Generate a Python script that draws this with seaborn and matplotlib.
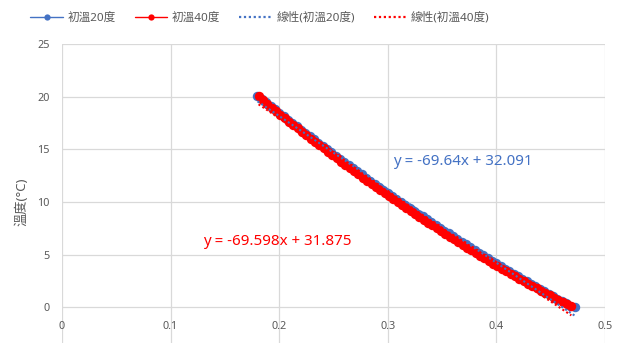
import matplotlib
matplotlib.use("Agg")
import matplotlib.pyplot as plt
from matplotlib.lines import Line2D
import numpy as np
import pandas as pd
import seaborn as sns

# ---- data -------------------------------------------------------------
x_20 = [0.180, 0.184, 0.188, 0.192, 0.196, 0.200, 0.204, 0.208, 0.212, 0.216,
        0.220, 0.224, 0.228, 0.232, 0.236, 0.240, 0.244, 0.248, 0.252, 0.256,
        0.260, 0.264, 0.268, 0.272, 0.276, 0.280, 0.284, 0.288, 0.292, 0.296,
        0.300, 0.304, 0.308, 0.312, 0.316, 0.320, 0.324, 0.328, 0.332, 0.336,
        0.340, 0.344, 0.348, 0.352, 0.356, 0.360, 0.364, 0.368, 0.372, 0.376,
        0.380, 0.384, 0.388, 0.392, 0.396, 0.400, 0.404, 0.408, 0.412, 0.416,
        0.420, 0.424, 0.428, 0.432, 0.436, 0.440, 0.444, 0.448, 0.452, 0.456,
        0.460, 0.464, 0.468, 0.472]
y_20 = [20.05, 19.76, 19.45, 19.11, 18.80, 18.46, 18.16, 17.82, 17.52, 17.19,
        16.88, 16.55, 16.24, 15.95, 15.62, 15.33, 15.01, 14.72, 14.40, 14.10,
        13.82, 13.50, 13.21, 12.90, 12.62, 12.31, 12.03, 11.73, 11.46, 11.15,
        10.88, 10.58, 10.31, 10.02, 9.76, 9.46, 9.19, 8.90, 8.64, 8.35,
        8.09, 7.81, 7.55, 7.27, 7.02, 6.74, 6.49, 6.22, 5.97, 5.70,
        5.45, 5.18, 4.94, 4.68, 4.43, 4.17, 3.93, 3.68, 3.44, 3.19,
        2.95, 2.70, 2.47, 2.22, 1.99, 1.75, 1.52, 1.28, 1.06, 0.82,
        0.60, 0.37, 0.17, 0.06]

x_40 = [0.181, 0.185, 0.189, 0.193, 0.197, 0.201, 0.205, 0.209, 0.213, 0.217,
        0.221, 0.225, 0.229, 0.233, 0.237, 0.241, 0.245, 0.249, 0.253, 0.257,
        0.261, 0.265, 0.269, 0.273, 0.277, 0.281, 0.285, 0.289, 0.293, 0.297,
        0.301, 0.305, 0.309, 0.313, 0.317, 0.321, 0.325, 0.329, 0.333, 0.337,
        0.341, 0.345, 0.349, 0.353, 0.357, 0.361, 0.365, 0.369, 0.373, 0.377,
        0.381, 0.385, 0.389, 0.393, 0.397, 0.401, 0.405, 0.409, 0.413, 0.417,
        0.421, 0.425, 0.429, 0.433, 0.437, 0.441, 0.445, 0.449, 0.453, 0.457,
        0.461, 0.465, 0.469]
y_40 = [20.02, 19.66, 19.31, 18.97, 18.64, 18.30, 17.98, 17.64, 17.32, 17.00,
        16.67, 16.35, 16.02, 15.72, 15.39, 15.08, 14.76, 14.46, 14.14, 13.84,
        13.53, 13.23, 12.92, 12.63, 12.32, 12.03, 11.72, 11.44, 11.14, 10.86,
        10.56, 10.28, 9.99, 9.72, 9.42, 9.15, 8.87, 8.60, 8.32, 8.05,
        7.77, 7.51, 7.24, 6.98, 6.71, 6.45, 6.18, 5.93, 5.67, 5.42,
        5.16, 4.92, 4.66, 4.42, 4.16, 3.93, 3.68, 3.45, 3.20, 2.97,
        2.72, 2.50, 2.26, 2.04, 1.80, 1.58, 1.35, 1.13, 0.90, 0.69,
        0.48, 0.28, 0.12]

# linear trend coefficients (slope, intercept)
fit_20 = (-69.64, 32.091)
fit_40 = (-69.598, 31.875)

series_names = ["初溫20度", "初溫40度"]
trend_names = ["線性(初溫20度)", "線性(初溫40度)"]
x_ticks = [0, 0.1, 0.2, 0.3, 0.4, 0.5]
x_tick_labels = ["0", "0.1", "0.2", "0.3", "0.4", "0.5"]
y_ticks = [0, 5, 10, 15, 20, 25]

# ---- style ------------------------------------------------------------
sns.set_style("white")
plt.rcParams["font.family"] = ["Noto Sans", "Noto Sans CJK TC", "DejaVu Sans"]

BLUE = "#4472C4"
RED = "#FF0000"
GRID = "#D9D9D9"
TEXT = "#595959"

fig = plt.figure(figsize=(6.29, 3.43), dpi=100)
ax = fig.add_axes([62 / 629, -17 / 343, 543 / 629, 316 / 343])

df = pd.concat([
    pd.DataFrame({"x": x_20, "y": y_20, "series": series_names[0]}),
    pd.DataFrame({"x": x_40, "y": y_40, "series": series_names[1]}),
])

for name, color in zip(series_names, [BLUE, RED]):
    sub = df[df["series"] == name]
    sns.lineplot(data=sub, x="x", y="y", ax=ax, color=color, marker="o",
                 markersize=6.8, markeredgewidth=0, linewidth=1.5,
                 sort=False, estimator=None, legend=False, zorder=3)

# dotted trend lines over each series' x-range
dot = (0, (1, 1.2))
for xs, (m, b), color in [(x_20, fit_20, BLUE), (x_40, fit_40, RED)]:
    xr = np.array([min(xs), max(xs)])
    ax.plot(xr, m * xr + b, color=color, linestyle=dot, linewidth=1.5, zorder=4)

# trend equations
ax.text(0.305, 13.88, f"y = {fit_20[0]:g}x + {fit_20[1]:g}", color=BLUE,
        fontsize=10.9, va="center", ha="left", zorder=5)
ax.text(0.130, 6.27, f"y = {fit_40[0]:g}x + {fit_40[1]:g}", color=RED,
        fontsize=10.9, va="center", ha="left", zorder=5)

# axes
ax.set_xlim(0, 0.5)
ax.set_ylim(-5, 25)
ax.set_xticks(x_ticks)
ax.set_xticklabels(x_tick_labels)
ax.set_yticks(y_ticks)
ax.grid(True, color=GRID, linewidth=0.9)
ax.set_axisbelow(True)
for s in ax.spines.values():
    s.set_visible(False)
ax.spines["bottom"].set_position(("data", 0))
ax.tick_params(axis="both", length=0, labelsize=7.8, colors=TEXT)
ax.tick_params(axis="x", pad=10)
ax.tick_params(axis="y", pad=9)
ax.set_xlabel("")
ax.set_ylabel("溫度(°C)", color=TEXT, fontsize=9.5)
ax.yaxis.set_label_coords(-0.062, 0.5)

# legend
handles = [
    Line2D([], [], color=BLUE, marker="o", markersize=4.5, markeredgewidth=0, linewidth=1),
    Line2D([], [], color=RED, marker="o", markersize=4.5, markeredgewidth=0, linewidth=1),
    Line2D([], [], color=BLUE, linestyle=dot, linewidth=1.6),
    Line2D([], [], color=RED, linestyle=dot, linewidth=1.6),
]
fig.legend(handles, series_names + trend_names, loc="center", ncol=4,
           bbox_to_anchor=(260 / 629, 1 - 18 / 343), frameon=False,
           fontsize=8.4, labelcolor=TEXT, handlelength=2.8,
           handletextpad=0.4, columnspacing=1.6)

fig.savefig("out.png", dpi=100)
